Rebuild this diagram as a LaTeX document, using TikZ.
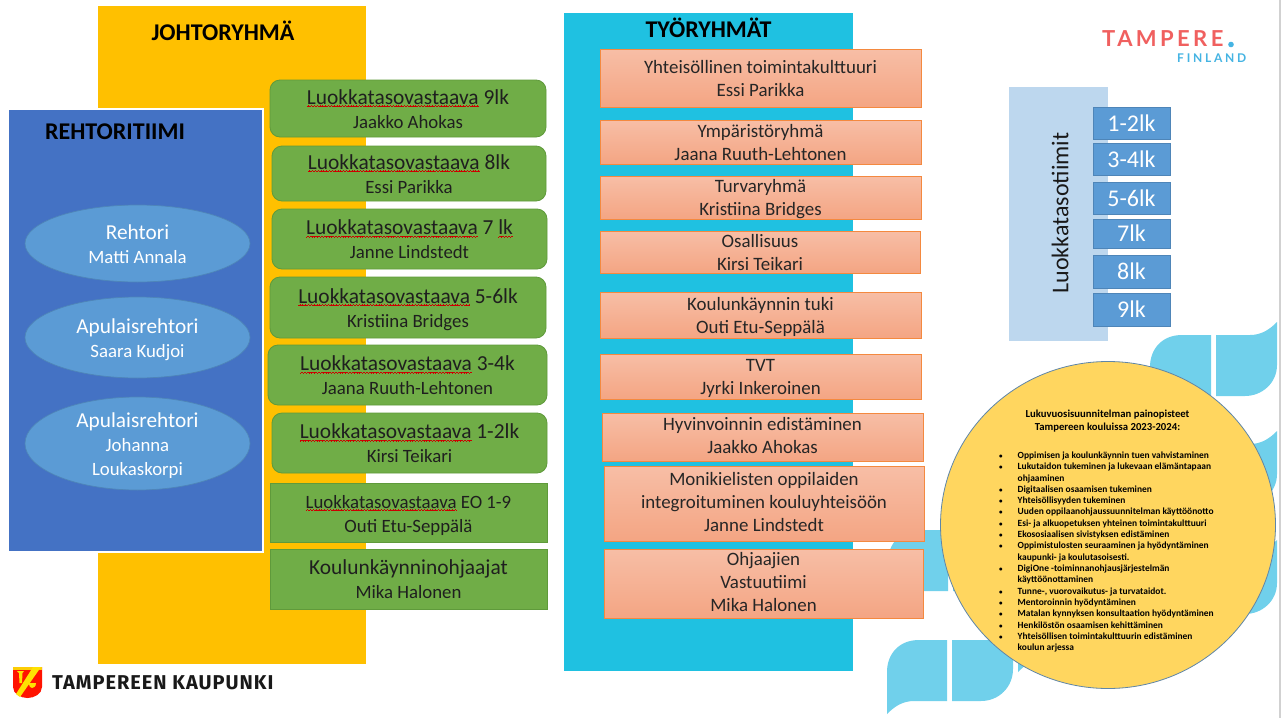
\documentclass[tikz,border=0pt]{standalone}
\usepackage{fontspec}
\setmainfont{Carlito}
\newfontfamily\logofont[LetterSpace=15.5]{Lato}
\newfontfamily\logofontb[LetterSpace=23]{Lato}
\newfontfamily\citylogo[LetterSpace=5]{Fira Sans}
\usetikzlibrary{shapes.geometric}
\definecolor{cyellow}{HTML}{FFC000}
\definecolor{cblue}{HTML}{4472C4}
\definecolor{cell}{HTML}{5B9BD5}
\definecolor{celld}{HTML}{4E85B8}
\definecolor{cgreen}{HTML}{70AD47}
\definecolor{cgreend}{HTML}{5F9A3B}
\definecolor{ccyan}{HTML}{1FC1E1}
\definecolor{cblob}{HTML}{70D0EB}
\definecolor{ctop}{HTML}{F7BEA6}
\definecolor{cbot}{HTML}{F4A583}
\definecolor{cedge}{HTML}{F4893F}
\definecolor{clight}{HTML}{BDD7EE}
\definecolor{ccirc}{HTML}{FFD65F}
\definecolor{ccircd}{HTML}{5F86A8}
\definecolor{cred}{HTML}{F0605F}
\definecolor{cdot}{HTML}{45B4E3}
\newsavebox\sqbox
\newcommand\wv[1]{\raise#1pt\hbox{\vrule width.7pt height.45pt depth0pt}}
\newcommand\sq[1]{\sbox\sqbox{#1}\leavevmode\rlap{\lower2.6pt\hbox to\wd\sqbox{\color{red!80!black}\xleaders\hbox{\wv{0}\wv{.4}\wv{.8}\wv{.4}}\hfil}}\usebox\sqbox}
% line with a 24-unit pitch (green, ovals)
\newcommand\fs[1]{\fontsize{#1}{24}\selectfont\rule[-4pt]{0pt}{23pt}}
% line with a 23-unit pitch (orange)
\newcommand\fo{\fontsize{18.9}{23}\selectfont\rule[-4.5pt]{0pt}{22pt}}
\newcommand\foe{\rule[-8.5pt]{0pt}{1pt}}
\newcommand\bl{\llap{{\fontsize{7}{7}\selectfont•}\hspace{15pt}}}
\newcommand\blobA[2]{%
 \fill[cblob] (#1+61,#2) -- (#1+32,#2) .. controls (#1+12,#2) and (#1,#2+14) .. (#1,#2+32) -- (#1,#2+61) -- (#1+61,#2+61) -- cycle;
 \fill[cblob] (#1+66,#2) -- (#1+100,#2) .. controls (#1+112,#2) and (#1+120,#2-6) .. (#1+127,#2-13) -- (#1+127,#2+30) .. controls (#1+127,#2+48) and (#1+112,#2+61) .. (#1+95,#2+61) -- (#1+66,#2+61) -- cycle;}
\newcommand\blobB[2]{%
 \fill[cblob] (#1+60,#2) -- (#1+32,#2) .. controls (#1+12,#2) and (#1,#2+14) .. (#1,#2+32) -- (#1,#2+74) .. controls (#1+7,#2+67) and (#1+15,#2+61) .. (#1+27,#2+61) -- (#1+60,#2+61) -- cycle;
 \fill[cblob] (#1+65,#2) -- (#1+126,#2) -- (#1+126,#2+29) .. controls (#1+126,#2+47) and (#1+112,#2+61) .. (#1+94,#2+61) -- (#1+65,#2+61) -- cycle;}
\tikzset{
 greenbox/.style={draw=cgreend,line width=.8pt,fill=cgreen,inner sep=0pt,align=center,text=black!88},
 orangebox/.style={draw=cedge,line width=.8pt,top color=ctop,bottom color=cbot,inner sep=0pt},
 orangetext/.style={align=center,text=black!85,inner sep=0pt},
 oval/.style={ellipse,draw=celld,line width=.7pt,fill=cell,inner sep=0pt},
 ovaltext/.style={align=center,text=white,inner sep=0pt},
 gradebox/.style={draw=celld,line width=.8pt,fill=cell,inner sep=0pt,text=white,font=\fontsize{24}{24}\selectfont},
 title/.style={inner sep=0pt,font=\bfseries\fontsize{24}{24}\selectfont,text=black},
}
\newcommand\bx[7][]{\node[#2,#1,minimum width={(#5-#3)*1pt},minimum height={(#6-#4)*1pt}] (#7) at ({(#3+#5)/2},{(#4+#6)/2})}
\newcommand\ox[6]{\bx[label={[orangetext]center:{#6}}]{orangebox}{#1}{#2}{#3}{#4}{#5} {};}
\begin{document}
\begin{tikzpicture}[x=1pt,y=-1pt]
\useasboundingbox (0,0) rectangle (1288,718);
\fill[white] (0,0) rectangle (1288,718);
\draw[black!18,line width=1.2pt] (1280,0) -- (1280,718);
% background decorations
\blobA{1150}{335}
\blobA{1150}{444}
\blobA{1150}{553}
\blobB{888}{530}
\blobB{887}{640}
\blobB{1018}{598}
% panels
\node[fill=cyellow,minimum width=268pt,minimum height=658pt,inner sep=0pt] (yellow) at (232,335) {};
\node[fill=ccyan,minimum width=289pt,minimum height=658pt,inner sep=0pt] (cyan) at (708.5,342) {};
\node[fill=cblue,draw=white,line width=2pt,minimum width=255pt,minimum height=443pt,inner sep=0pt] (blue) at (135.5,330.5) {};
\node[fill=clight,minimum width=99pt,minimum height=254pt,inner sep=0pt] (light) at (1058.5,214) {};
% titles
\node[title] (t1) at (223,31) {JOHTORYHMÄ};
\node[title] (t2) at (115,132) {REHTORITIIMI};
\node[title] (t3) at (708.5,28) {TYÖRYHMÄT};
% ovals
\bx[label={[ovaltext]center:{\fs{21.3}Rehtori\\\fs{18.8}Matti Annala}}]{oval}{25}{205}{250}{282}{o1} {};
\bx[label={[ovaltext]center:{\fs{21.3}Apulaisrehtori\\\fs{18.8}Saara Kudjoi}}]{oval}{25}{297}{250}{378}{o2} {};
\bx[label={[ovaltext]center:{\fs{21.3}Apulaisrehtori\\\fs{18.8}Johanna\\\fs{18.8}Loukaskorpi}}]{oval}{25}{397}{250}{490}{o3} {};
% green
\bx[rounded corners=10pt]{greenbox}{270}{80}{546}{137}{g1} {\fs{21.4}\sq{Luokkatasovastaava} 9lk\\\fs{18.8}Jaakko Ahokas};
\bx[rounded corners=10pt]{greenbox}{272}{146}{546}{201}{g2} {\fs{21.4}\sq{Luokkatasovastaava} 8lk\\\fs{18.8}Essi Parikka};
\bx[rounded corners=10pt]{greenbox}{272}{209}{547}{269}{g3} {\fs{21.4}\sq{Luokkatasovastaava} 7 \sq{lk}\\\fs{18.8}Janne Lindstedt};
\bx[rounded corners=10pt]{greenbox}{270}{277}{546}{338}{g4} {\fs{21.4}\sq{Luokkatasovastaava} 5-6lk\\\fs{18.8}Kristiina Bridges};
\bx[rounded corners=10pt]{greenbox}{268}{345}{547}{405}{g5} {\fs{21.4}\sq{Luokkatasovastaava} 3-4k\\\fs{18.8}Jaana Ruuth-Lehtonen};
\bx[rounded corners=10pt]{greenbox}{272}{413}{547}{473}{g6} {\fs{21.4}\sq{Luokkatasovastaava} 1-2lk\\\fs{18.8}Kirsi Teikari};
\bx{greenbox}{270}{483}{547}{542}{g7} {\fs{18.8}\sq{Luokkatasovastaava} EO 1-9\\\fs{18.8}Outi Etu-Seppälä};
\bx{greenbox}{270}{549}{547}{609}{g8} {\fs{21.4}Koulunkäynninohjaajat\\\fs{18.8}Mika Halonen};
% orange
\ox{600}{49}{921}{107}{w1}{\fo Yhteisöllinen toimintakulttuuri\\\fo Essi Parikka}
\ox{600}{120}{921}{164}{w2}{\fo Ympäristöryhmä\\\fo Jaana Ruuth-Lehtonen}
\ox{600}{176}{921}{219}{w3}{\fo Turvaryhmä\\\fo Kristiina Bridges}
\ox{600}{231}{920}{273}{w4}{\fo Osallisuus\\\fo Kirsi Teikari}
\ox{600}{292}{921}{338}{w5}{\fo Koulunkäynnin tuki\\\fo Outi Etu-Seppälä}
\ox{600}{354}{921}{399}{w6}{\fo TVT\\\fo Jyrki Inkeroinen}
\ox{602}{413}{923}{461}{w7}{\fo Hyvinvoinnin edistäminen\\\fo Jaakko Ahokas\foe}
\ox{604}{466}{924}{541}{w8}{\fo Monikielisten oppilaiden\\\fo integroituminen kouluyhteisöön\\\fo Janne Lindstedt\foe}
\ox{604}{549}{923}{618}{w9}{\fo Ohjaajien\\\fo Vastuutiimi\\\fo Mika Halonen\foe}
% grades
\node[rotate=90,inner sep=0pt,font=\fontsize{24}{24}\selectfont,text=black!90] (lt) at (1060,213) {Luokkatasotiimit};
\bx{gradebox}{1093}{107}{1170}{139}{k1} {1-2lk};
\bx{gradebox}{1093}{143}{1170}{175}{k2} {3-4lk};
\bx{gradebox}{1093}{182}{1170}{214}{k3} {5-6lk};
\bx{gradebox}{1093}{219}{1170}{248}{k4} {7lk};
\bx{gradebox}{1093}{255}{1170}{288}{k5} {8lk};
\bx{gradebox}{1093}{293}{1170}{326}{k6} {9lk};
% circle
\node[ellipse,draw=ccircd,line width=.8pt,fill=ccirc,minimum width=335pt,minimum height=327pt,inner sep=0pt] (circ) at (1108,525) {};
\node[inner sep=0pt,align=center,font=\bfseries\fontsize{10.7}{13}\selectfont] (ch) at (1107.5,421) {Lukuvuosisuunnitelman painopisteet\\Tampereen kouluissa 2023-2024:};
\node[inner sep=0pt,align=left,anchor=north west,font=\bfseries\fontsize{9.45}{11.33}\selectfont] (cl) at (1017.5,451.5) {%
\bl Oppimisen ja koulunkäynnin tuen vahvistaminen\\
\bl Lukutaidon tukeminen ja lukevaan elämäntapaan\\
ohjaaminen\\
\bl Digitaalisen osaamisen tukeminen\\
\bl Yhteisöllisyyden tukeminen\\
\bl Uuden oppilaanohjaussuunnitelman käyttöönotto\\
\bl Esi- ja alkuopetuksen yhteinen toimintakulttuuri\\
\bl Ekososiaalisen sivistyksen edistäminen\\
\bl Oppimistulosten seuraaminen ja hyödyntäminen\\
kaupunki- ja koulutasoisesti.\\
\bl DigiOne -toiminnanohjausjärjestelmän\\
käyttöönottaminen\\
\bl Tunne-, vuorovaikutus- ja turvataidot.\\
\bl Mentoroinnin hyödyntäminen\\
\bl Matalan kynnyksen konsultaation hyödyntäminen\\
\bl Henkilöstön osaamisen kehittäminen\\
\bl Yhteisöllisen toimintakulttuurin edistäminen\\
koulun arjessa};
% logos
\node[inner sep=0pt,anchor=base west,font=\logofont\bfseries\fontsize{22}{24}\selectfont,text=cred] (tp) at (1102,46.5) {TAMPERE};
\fill[cdot] (1231,44.5) circle (2.8);
\node[inner sep=0pt,anchor=base west,font=\logofontb\bfseries\fontsize{12}{14}\selectfont,text=cdot] (fi) at (1177,62.5) {FINLAND};
\fill[red!85!orange] (13,667) -- (42,667) -- (42,687) .. controls (42,694) and (34,698) .. (27.5,698) .. controls (21,698) and (13,694) .. (13,687) -- cycle;
\fill[yellow!65!orange] (13,667) -- (42,667) -- (42,670) -- (13,670) -- cycle;
\fill[yellow!85!orange] (16,694) -- (33,667) -- (41,667) -- (20,697) -- cycle;
\fill[yellow!85!orange] (17,671) -- (24,671) -- (22.5,673) -- (22,683) -- (19.5,683) -- (19,673) -- cycle;
\fill[yellow!85!orange] (29,683) -- (36,683) .. controls (36,687) and (33,688) .. (32,688) .. controls (31,688) and (29,687) .. (29,683) -- cycle;
\node[inner sep=0pt,anchor=base west,font=\citylogo\bfseries\fontsize{20}{24}\selectfont,text=black!90] (tk) at (52,689) {TAMPEREEN KAUPUNKI};
\end{tikzpicture}
\end{document}
